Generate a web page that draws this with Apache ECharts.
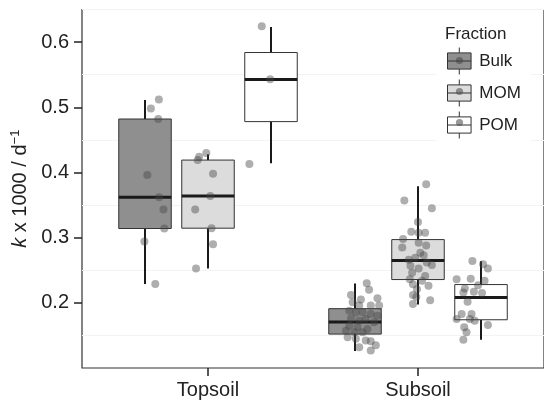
<!DOCTYPE html>
<html>
<head>
<meta charset="utf-8">
<script src="https://cdn.jsdelivr.net/npm/echarts@6/dist/echarts.min.js"></script>
<style>
  html, body { margin: 0; padding: 0; background: #fff; }
  #container { width: 544px; height: 402px; }
</style>
</head>
<body>
<div id="container"></div>
<script>
var categories = ['Topsoil', 'Subsoil'];
var fractions = ['Bulk', 'MOM', 'POM'];
var yTicks = [0.2, 0.3, 0.4, 0.5, 0.6];

// box stats per soil: [lower whisker, Q1, median, Q3, upper whisker]
var bulkBoxes = [[0.229, 0.314, 0.362, 0.482, 0.511], [0.126, 0.152, 0.1705, 0.191, 0.2296]];
var momBoxes = [[0.2525, 0.3145, 0.364, 0.419, 0.428], [0.1976, 0.2357, 0.265, 0.297, 0.379]];
var pomBoxes = [[0.414, 0.478, 0.5426, 0.584, 0.623], [0.1435, 0.174, 0.208, 0.228, 0.2637]];

// jittered points: [x jitter (category units), k]
var bulkTopPoints = [[0.066, 0.512], [0.028, 0.498], [0.063, 0.482], [0.011, 0.396], [0.067, 0.362],
    [0.088, 0.343], [0.092, 0.314], [-0.003, 0.294], [0.049, 0.229]];
var momTopPoints = [[-0.008, 0.430], [-0.042, 0.424], [-0.049, 0.419], [0.024, 0.398], [0.011, 0.364],
    [-0.061, 0.343], [0.017, 0.3145], [0.024, 0.290], [-0.057, 0.2525]];
var pomTopPoints = [[-0.044, 0.6244], [-0.004, 0.543], [-0.103, 0.413]];
var bulkSubPoints = [[0.056, 0.230], [0.067, 0.220], [-0.019, 0.212], [0.107, 0.207], [0.028, 0.205],
    [-0.011, 0.201], [0.020, 0.196], [0.075, 0.196], [0.115, 0.196], [-0.027, 0.188], [0.004, 0.185],
    [0.036, 0.186], [0.075, 0.183], [0.107, 0.180], [-0.019, 0.176], [0.020, 0.173], [0.051, 0.175],
    [0.091, 0.170], [-0.027, 0.165], [0.012, 0.163], [0.059, 0.160], [-0.043, 0.157], [-0.003, 0.155],
    [0.036, 0.155], [-0.035, 0.147], [0.004, 0.145], [0.051, 0.142], [0.075, 0.141], [0.099, 0.135],
    [0.020, 0.132], [0.075, 0.127]];
var momSubPoints = [[0.039, 0.382], [-0.065, 0.357], [0.066, 0.345], [0.000, 0.324], [-0.032, 0.309],
    [0.003, 0.3075], [0.034, 0.3075], [-0.071, 0.298], [0.003, 0.292], [0.039, 0.288], [-0.075, 0.285],
    [0.011, 0.277], [0.027, 0.273], [-0.013, 0.269], [-0.044, 0.266], [0.042, 0.262], [0.066, 0.258],
    [-0.036, 0.257], [0.003, 0.2525], [-0.028, 0.246], [0.034, 0.241], [-0.039, 0.236], [0.019, 0.234],
    [-0.024, 0.2285], [0.050, 0.226], [-0.005, 0.221], [-0.024, 0.212], [-0.008, 0.209], [0.058, 0.204],
    [-0.024, 0.198]];
var pomSubPoints = [[-0.041, 0.264], [0.010, 0.259], [0.033, 0.2525], [-0.116, 0.236], [-0.049, 0.237],
    [0.017, 0.234], [-0.014, 0.227], [-0.077, 0.222], [-0.034, 0.217], [0.005, 0.215], [-0.084, 0.216],
    [-0.064, 0.2015], [-0.092, 0.183], [-0.045, 0.183], [-0.116, 0.175], [-0.053, 0.175], [-0.030, 0.1725],
    [0.033, 0.166], [-0.080, 0.1625], [-0.069, 0.155], [-0.084, 0.1435]];

var dodge = { Bulk: -0.3, MOM: 0, POM: 0.3 };
var fills = { Bulk: '#8f8f8f', MOM: '#dcdcdc', POM: '#ffffff' };
var pointColor = 'rgba(70,70,70,0.55)';
var boxWidth = 0.25;
var font = 'Liberation Sans, Arial, sans-serif';

var dom = document.getElementById('container');
var myChart = echarts.init(dom, null, { renderer: 'canvas' });

function boxData(name, boxes) {
    return boxes.map(function (b, i) {
        return [i + 1, dodge[name]].concat(b);
    });
}

function pointData(name, top, sub) {
    var out = [];
    top.forEach(function (p) { out.push([1 + dodge[name] + p[0], p[1]]); });
    sub.forEach(function (p) { out.push([2 + dodge[name] + p[0], p[1]]); });
    return out;
}

function renderBox(params, api) {
    var x = api.value(0) + api.value(1);
    var lo = api.coord([x, api.value(2)]);
    var q1 = api.coord([x, api.value(3)]);
    var med = api.coord([x, api.value(4)]);
    var q3 = api.coord([x, api.value(5)]);
    var hi = api.coord([x, api.value(6)]);
    var w = api.size([boxWidth, 0])[0];
    var name = fractions[params.seriesIndex];
    return {
        type: 'group',
        children: [
            { type: 'line', shape: { x1: hi[0], y1: hi[1], x2: q3[0], y2: q3[1] },
              style: { stroke: '#1a1a1a', lineWidth: 2 } },
            { type: 'line', shape: { x1: lo[0], y1: lo[1], x2: q1[0], y2: q1[1] },
              style: { stroke: '#1a1a1a', lineWidth: 2 } },
            { type: 'rect', shape: { x: q3[0] - w / 2, y: q3[1], width: w, height: q1[1] - q3[1] },
              style: { fill: fills[name], stroke: '#333', lineWidth: 1 } },
            { type: 'line', shape: { x1: med[0] - w / 2, y1: med[1], x2: med[0] + w / 2, y2: med[1] },
              style: { stroke: '#1a1a1a', lineWidth: 3 } }
        ]
    };
}

var series = [];
[['Bulk', bulkBoxes], ['MOM', momBoxes], ['POM', pomBoxes]].forEach(function (s) {
    series.push({
        name: s[0],
        type: 'custom',
        renderItem: renderBox,
        itemStyle: { color: fills[s[0]] },
        encode: { x: 0, y: [2, 3, 4, 5, 6] },
        data: boxData(s[0], s[1]),
        z: 2
    });
});
[['Bulk', bulkTopPoints, bulkSubPoints], ['MOM', momTopPoints, momSubPoints], ['POM', pomTopPoints, pomSubPoints]]
    .forEach(function (s) {
        series.push({
            name: s[0] + ' points',
            type: 'scatter',
            symbolSize: 8,
            itemStyle: { color: pointColor },
            data: pointData(s[0], s[1], s[2]),
            z: 5
        });
    });

var iconPath = 'path://M0,5.5H24V22H0Z M12,0V5.5 M12,22V27.5 M0,13.75H24';
var legendTop = 44, legendPadTop = 3, iconH = 27, iconGap = 4;

// grey dot drawn over each legend key, like the point layer in the key
var legendDots = fractions.map(function (f, i) {
    return {
        type: 'circle',
        z: 10,
        shape: { cx: 459.5, cy: legendTop + legendPadTop + iconH / 2 + i * (iconH + iconGap), r: 3.6 },
        style: { fill: pointColor }
    };
});

myChart.setOption({
    animation: false,
    title: {
        text: 'Fraction',
        left: 440,
        top: 21,
        textStyle: { fontFamily: font, fontSize: 17, fontWeight: 'normal', color: '#222' }
    },
    legend: {
        orient: 'vertical',
        left: 436,
        top: legendTop,
        padding: [legendPadTop, 10, 4, 11],
        backgroundColor: '#fff',
        itemWidth: 24,
        itemHeight: iconH,
        itemGap: iconGap,
        icon: iconPath,
        textStyle: { fontFamily: font, fontSize: 17, color: '#222', padding: [0, 0, 0, 3] },
        data: fractions.map(function (f) {
            return { name: f, itemStyle: { color: fills[f], borderColor: '#333', borderWidth: 1 } };
        })
    },
    graphic: legendDots,
    grid: {
        left: 82,
        right: -4,
        top: 9.5,
        bottom: 34,
        show: true,
        borderColor: '#333',
        borderWidth: 1.2,
        backgroundColor: 'transparent'
    },
    xAxis: {
        type: 'value',
        min: 0.4,
        max: 2.6,
        splitLine: { show: false },
        axisLine: { show: false },
        axisTick: { show: true, customValues: [1, 2], length: 8, lineStyle: { color: '#222', width: 1.5 } },
        axisLabel: {
            customValues: [1, 2],
            margin: 12,
            fontFamily: font,
            fontSize: 20,
            color: '#222',
            formatter: function (v) { return categories[Math.round(v) - 1]; }
        }
    },
    yAxis: [{
        type: 'value',
        min: 0.1,
        max: 0.65,
        interval: 0.1,
        name: '{i|k} x 1000 / d{sup|\u22121}',
        nameLocation: 'middle',
        nameGap: 51,
        nameTextStyle: {
            fontFamily: font,
            fontSize: 20,
            color: '#222',
            rich: {
                i: { fontFamily: font, fontSize: 20, fontStyle: 'italic', color: '#222' },
                sup: { fontFamily: font, fontSize: 13, color: '#222', verticalAlign: 'top', padding: [0, 0, 9, 0] }
            }
        },
        axisLine: { show: false },
        axisTick: { show: true, customValues: yTicks, length: 8, lineStyle: { color: '#222', width: 1.5 } },
        axisLabel: {
            customValues: yTicks,
            margin: 13,
            fontFamily: font,
            fontSize: 20,
            color: '#222',
            formatter: function (v) { return v.toFixed(1); }
        },
        splitLine: { show: false }
    }, {
        // only carries the faint grid lines at 0.15, 0.25, ...
        type: 'value',
        position: 'left',
        min: 0.1,
        max: 0.65,
        interval: 0.05,
        axisLine: { show: false },
        axisTick: { show: false },
        axisLabel: { show: false },
        splitLine: {
            show: true,
            showMinLine: true,
            lineStyle: { color: ['rgba(0,0,0,0)', '#f3f3f3'], width: 1 }
        }
    }],
    series: series
});

window.addEventListener('resize', function () {
    myChart.resize();
});
</script>
</body>
</html>
